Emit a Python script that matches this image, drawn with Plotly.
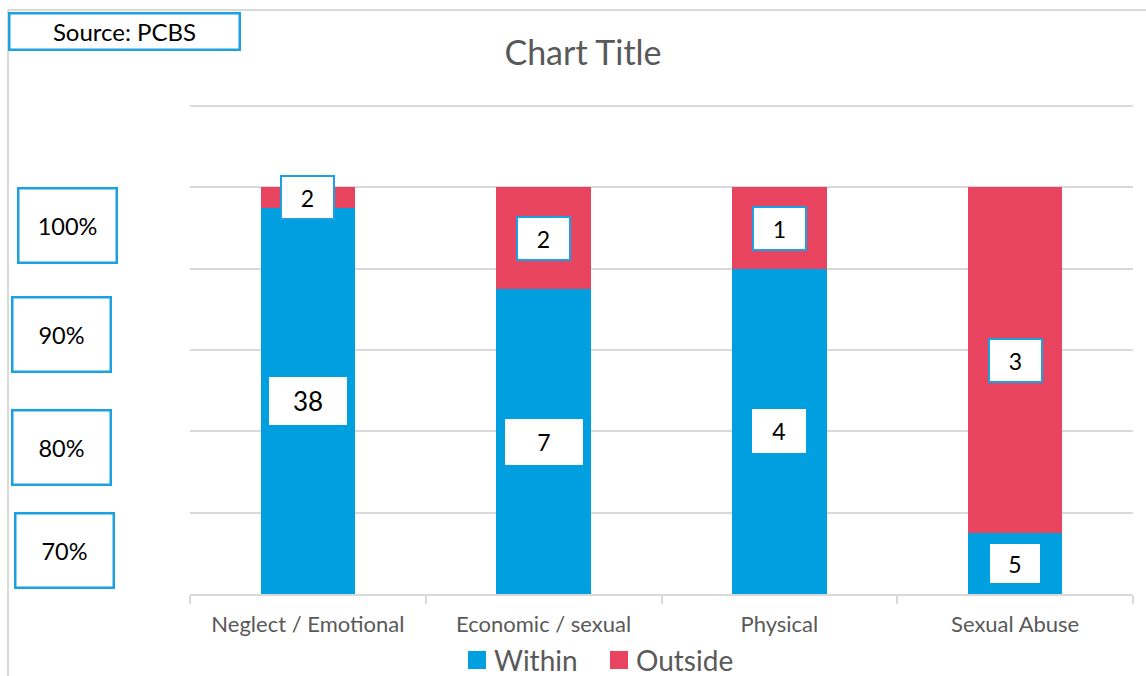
import plotly.graph_objects as go

# ---- data ----
categories = ["Neglect / Emotional", "Economic / sexual", "Physical", "Sexual Abuse"]
within_share = [0.95, 0.75, 0.80, 0.15]
outside_share = [0.05, 0.25, 0.20, 0.85]
within_labels = ["38", "7", "4", "5"]
outside_labels = ["2", "2", "1", "3"]
side_labels = ["100%", "90%", "80%", "70%"]
series_names = ["Within", "Outside"]
source_text = "Source: PCBS"
title_text = "Chart Title"

# ---- style ----
BLUE = "#009FE0"
RED = "#E8435F"
BOX_BLUE = "#1BA1E2"
GRID = "#D9D9D9"
TXT = "#595959"
FONT = "Lato, Open Sans, sans-serif"

W, H = 1146, 676
L, R, T, B = 190, 13, 102, 82
PW, PH = W - L - R, H - T - B


def px_x(px):
    return (px - L) / PW


def px_y(py):
    return (H - B - py) / PH


fig = go.Figure()
fig.add_trace(go.Bar(x=categories, y=within_share, marker_color=BLUE,
                     marker_line_width=0, showlegend=False, name=series_names[0]))
fig.add_trace(go.Bar(x=categories, y=outside_share, marker_color=RED,
                     marker_line_width=0, showlegend=False, name=series_names[1]))

annotations = []
shapes = []
within_box_w = [72, 72, 48, 44]
within_box_h = [42, 40, 38, 33]
for i, c in enumerate(categories):
    annotations.append(dict(
        x=c, y=within_share[i] / 2, xref="x", yref="y", text=within_labels[i],
        showarrow=False,
        font=dict(family=FONT, size=26 if len(within_labels[i]) > 1 else 23, color="black"),
        bgcolor="white", bordercolor="white", borderwidth=2, borderpad=1,
        width=within_box_w[i], height=within_box_h[i]))
    annotations.append(dict(
        x=c, y=within_share[i] + outside_share[i] / 2, xref="x", yref="y", text=outside_labels[i],
        showarrow=False, font=dict(family=FONT, size=23, color="black"),
        bgcolor="white", bordercolor=BOX_BLUE, borderwidth=2, borderpad=1,
        width=49, height=39))

# left percentage boxes (decorative text boxes)
side_centers = [(67, 225), (61.5, 334), (61.5, 447), (64, 550)]
for lab, (cx, cy) in zip(side_labels, side_centers):
    annotations.append(dict(
        x=px_x(cx), y=px_y(cy), xref="paper", yref="paper", text=lab, showarrow=False,
        font=dict(family=FONT, size=23.5, color="black"), bgcolor="white",
        bordercolor=BOX_BLUE, borderwidth=2.5, borderpad=1, width=94, height=70,
        xanchor="center", yanchor="middle"))

annotations.append(dict(
    x=px_x(124), y=px_y(31), xref="paper", yref="paper", text=source_text, showarrow=False,
    font=dict(family=FONT, size=24, color="black"), bgcolor="white",
    bordercolor=BOX_BLUE, borderwidth=2.5, borderpad=1, width=226, height=32,
    xanchor="center", yanchor="middle"))

# custom legend
legend_items = [(468, BLUE), (610, RED)]
for nm, (lx, col) in zip(series_names, legend_items):
    shapes.append(dict(type="rect", xref="paper", yref="paper",
                       x0=px_x(lx), x1=px_x(lx + 18), y0=px_y(669), y1=px_y(651),
                       fillcolor=col, line=dict(width=0)))
    annotations.append(dict(x=px_x(lx + 25), y=px_y(660), xref="paper", yref="paper",
                            text=nm, showarrow=False, xanchor="left", yanchor="middle",
                            height=28, borderpad=0,
                            font=dict(family=FONT, size=28, color=TXT)))

shapes += [
    dict(type="line", xref="paper", yref="paper", x0=px_x(8), x1=px_x(W + 5), y0=px_y(10), y1=px_y(10),
         line=dict(color=GRID, width=2), layer="below"),
    dict(type="line", xref="paper", yref="paper", x0=px_x(8), x1=px_x(8), y0=px_y(10), y1=px_y(H + 5),
         line=dict(color=GRID, width=2), layer="below"),
]

fig.update_layout(
    width=W, height=H,
    margin=dict(l=L, r=R, t=T, b=B),
    paper_bgcolor="white", plot_bgcolor="white",
    barmode="stack", bargap=0.6, showlegend=False,
    title=dict(text=title_text, x=583 / W, xref="container", xanchor="center",
               y=1 - 53 / H, yref="container", yanchor="middle",
               font=dict(family=FONT, size=34, color=TXT)),
    font=dict(family=FONT, color=TXT),
    xaxis=dict(showline=True, linecolor=GRID, linewidth=1.5, ticks="outside", tickson="boundaries",
               ticklen=8, tickcolor=GRID, tickwidth=1.5, showgrid=False, ticklabelstandoff=10,
               tickfont=dict(family=FONT, size=22, color=TXT)),
    yaxis=dict(range=[0, 1.21], dtick=0.2, showgrid=True, gridcolor=GRID, gridwidth=1.5,
               showticklabels=False, zeroline=False, fixedrange=True),
    annotations=annotations,
    shapes=shapes,
)

fig.write_html("out.html", config={"displayModeBar": False},
               post_script="document.body.style.margin='0';")
